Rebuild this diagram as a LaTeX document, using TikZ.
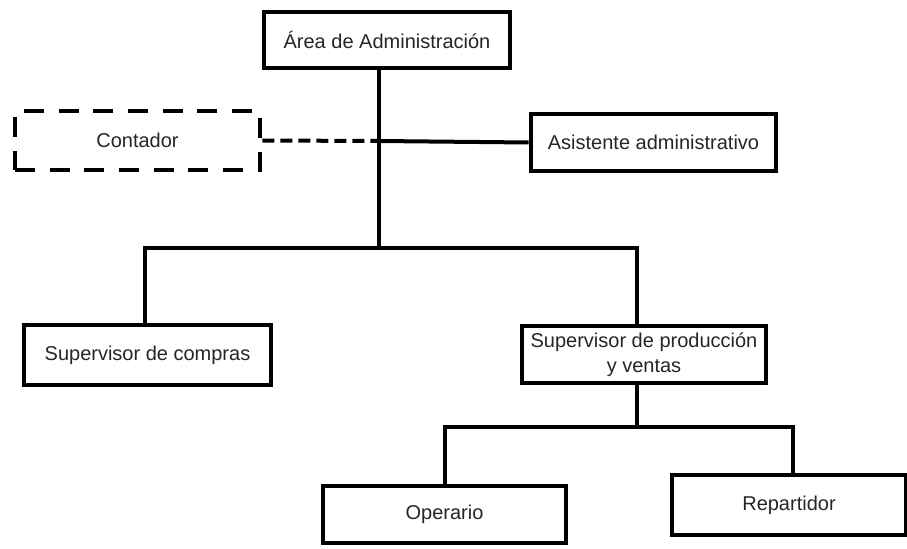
\documentclass[tikz,border=0pt]{standalone}
\usepackage{fontspec}
\setmainfont{Liberation Sans}
\begin{document}
\begin{tikzpicture}[x=0.75pt,y=-0.75pt,
  box/.style={draw=black, line width=3.6pt, fill=white, rectangle, inner sep=0pt,
    text=black!85, font=\fontsize{15}{18.5}\selectfont, align=center},
  dbox/.style={box, dash pattern=on 15pt off 11pt},
  conn/.style={draw=black, line width=3pt},
  dconn/.style={conn, dash pattern=on 9pt off 4.5pt}]
\useasboundingbox (0,0) rectangle (907,549);
\fill[white] (0,0) rectangle (907,549);
% nodes
\node[box, minimum width=246*0.75pt, minimum height=56*0.75pt] (top) at (387,40) {Área de Administración};
\node[dbox, minimum width=245*0.75pt, minimum height=59*0.75pt] (cont) at (137.5,140.5) {Contador};
\node[box, minimum width=245*0.75pt, minimum height=57*0.75pt] (asis) at (653.5,142.5) {Asistente administrativo};
\node[box, minimum width=247*0.75pt, minimum height=60*0.75pt] (comp) at (147.5,355) {Supervisor de compras};
\node[box, minimum width=244*0.75pt, minimum height=57*0.75pt] (prod) at (644,354.5) {Supervisor de producción\\y ventas};
\node[box, minimum width=243*0.75pt, minimum height=57*0.75pt] (oper) at (444.5,514.5) {Operario};
\node[box, minimum width=234*0.75pt, minimum height=60*0.75pt] (rep) at (789,505) {Repartidor};
% junction coordinates
\coordinate (t1) at (379,70);
\coordinate (j1) at (379,141);
\coordinate (j2) at (379,248);
\coordinate (l1) at (145,248);
\coordinate (r1) at (637,248);
\coordinate (p1) at (637,385);
\coordinate (p2) at (637,427);
\coordinate (o1) at (445,427);
\coordinate (o2) at (793,427);
% connectors
\draw[conn] (t1) -- (j2);
\draw[conn] (j1) -- (asis.west);
\draw[dconn] (cont.east) -- (j1);
\draw[conn, line cap=rect] (l1 |- comp.north) -- (l1) -- (r1) -- (r1 |- prod.north);
\draw[conn] (p1) -- (p2);
\draw[conn, line cap=rect] (o1 |- oper.north) -- (o1) -- (o2) -- (o2 |- rep.north);
\end{tikzpicture}
\end{document}
